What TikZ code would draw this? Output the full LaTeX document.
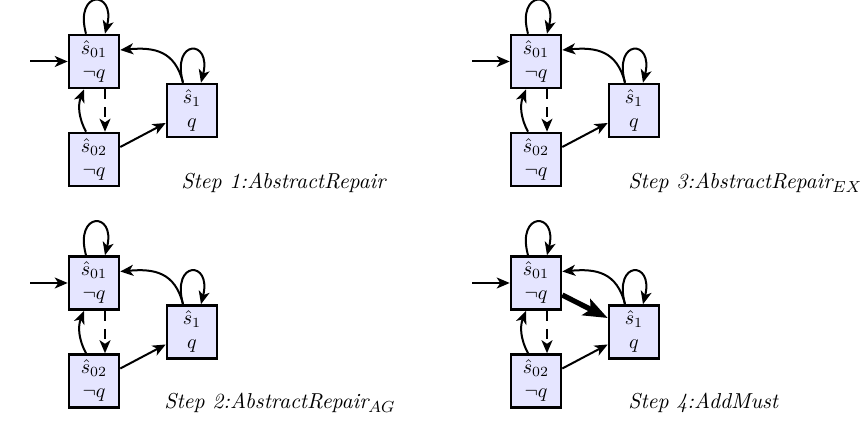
\documentclass[tikz,border=0pt]{standalone}
\usetikzlibrary{arrows.meta,calc}
\tikzset{
  state/.style={draw,line width=1.3pt,fill=blue!10,minimum width=25pt,minimum height=26.5pt,
    inner sep=0pt,align=center},
  edge/.style={line width=1pt,-{Stealth[length=6.5pt,width=5.5pt,inset=1.8pt]}},
  dedge/.style={edge,dash pattern=on 5pt off 4pt},
  must/.style={line width=2.6pt,-{Stealth[length=12pt,width=9pt,inset=2.5pt]}},
  lbl/.style={anchor=west,inner sep=0pt,font=\fontsize{10.8}{13}\selectfont\itshape}
}
\newcommand\mypanel[3]{%
\begin{scope}[shift={(#1,#2)},name prefix=#3-]
  \node[state] (s01) at (94,61.5) {$\hat{s}_{01}$\\$\neg q$};
  \node[state] (s02) at (94,159.5) {$\hat{s}_{02}$\\$\neg q$};
  \node[state] (s1) at (192,110.5) {$\hat{s}_{1}$\\$q$};
  \coordinate (init) at (30,61.5);
  \draw[edge] (init) -- (s01);
  \draw[edge] ($(s01.north)+(-8,0)$) .. controls +(-12,-44) and +(11,-44) .. ($(s01.north)+(11,0)$);
  \draw[edge] ($(s1.north)+(-9,0)$) .. controls +(-12,-44) and +(11,-44) .. ($(s1.north)+(9,0)$);
  \draw[edge] ($(s1.north)+(-9,0)$) .. controls +(-8,-32) and +(34,-3) .. ($(s01.east)+(0,-11.5)$);
  \draw[dedge] ($(s01.south)+(11,0)$) -- ($(s02.north)+(11,0)$);
  \draw[edge] ($(s02.north)+(-8,0)$) .. controls +(-8,-15) and +(-6,15) .. ($(s01.south)+(-10,0)$);
  \draw[edge] ($(s02.east)+(0,-12.5)$) -- ($(s1.west)+(0,12.5)$);
\end{scope}}
\begin{document}
\begin{tikzpicture}[x=0.5pt,y=-0.5pt]
\useasboundingbox (0,0) rectangle (864,422);
\mypanel{0}{0}{pa}
\mypanel{0}{221.5}{pb}
\mypanel{442}{0}{pc}
\mypanel{442}{221.5}{pd}
\draw[must] ($(pd-s01.east)+(0,12)$) -- ($(pd-s1.west)+(0,-14)$);
\node[lbl] (l1) at (181,183) {Step 1:AbstractRepair};
\node[lbl] (l2) at (164,403) {Step 2:AbstractRepair$_{AG}$};
\node[lbl] (l3) at (628,183) {Step 3:AbstractRepair$_{EX}$};
\node[lbl] (l4) at (628,403) {Step 4:AddMust};
\end{tikzpicture}
\end{document}
